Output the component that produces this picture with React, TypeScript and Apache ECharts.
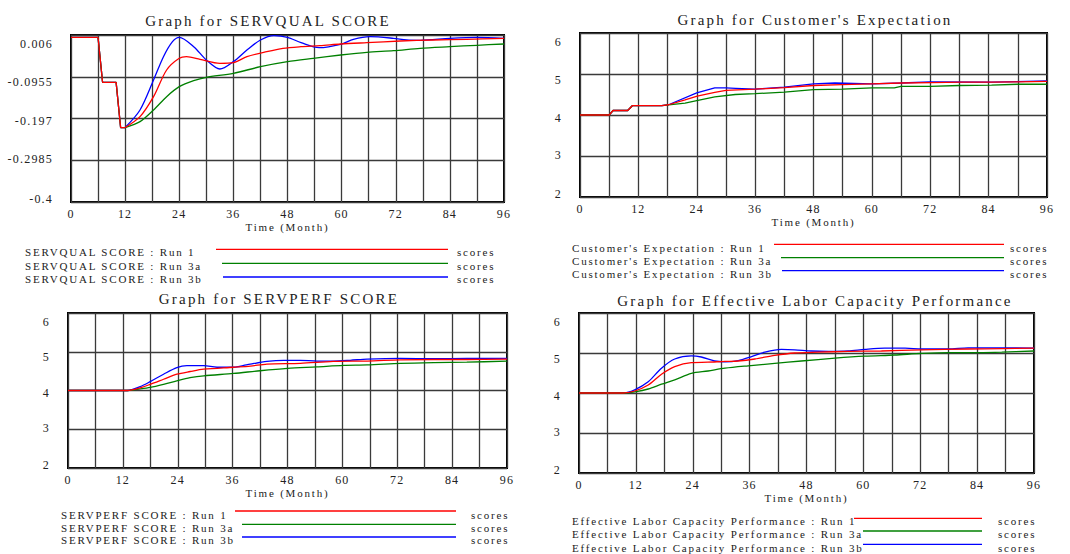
import React, { useEffect, useRef } from "react";
import * as echarts from "echarts";

// ---------- Data ----------
const xTicks = [0, 12, 24, 36, 48, 60, 72, 84, 96];
const yLabelsServqual = ["-0.4", "-0.2985", "-0.197", "-0.0955", "0.006"];
const yLabelsScore = ["2", "3", "4", "5", "6"];
const runNames = ["Run 1", "Run 3a", "Run 3b"];

// Graph for SERVQUAL SCORE
const sqRun1T = [0, 6, 7, 10, 11, 12, 15.3, 18.3, 21.2, 24, 25.6, 28.6, 33, 36, 39, 43.4, 47, 51, 55.2, 59.8, 65.6, 73, 80.3, 87.7, 96];
const sqRun1V = [0, 0, -0.109, -0.109, -0.219, -0.219, -0.1925, -0.1439, -0.0791, -0.0507, -0.0467, -0.0531, -0.0629, -0.0613, -0.0467, -0.0345, -0.0264, -0.0224, -0.0199, -0.0159, -0.0126, -0.0086, -0.0062, -0.0045, -0.0021];
const sqRun3aT = [0, 6, 7, 10, 11, 12, 15.3, 18.3, 21.2, 24, 27.2, 30, 36, 42, 48, 53.7, 59.8, 65.6, 71.5, 77.4, 84, 90, 96];
const sqRun3aV = [0, 0, -0.109, -0.109, -0.219, -0.219, -0.2047, -0.1763, -0.1439, -0.1196, -0.105, -0.0969, -0.0872, -0.071, -0.0588, -0.0507, -0.0426, -0.0361, -0.0321, -0.0264, -0.0224, -0.019, -0.0159];
const sqRun3bT = [0, 6, 7, 10, 11, 12, 15.3, 18.3, 20.5, 22.5, 24, 27.2, 30, 33, 36, 39, 42, 45, 48, 51, 55, 60, 62.6, 66.3, 71.5, 74.4, 77.4, 84, 90, 96];
const sqRun3bV = [0, 0, -0.109, -0.109, -0.219, -0.219, -0.1763, -0.1034, -0.0467, -0.0102, 0.0003, -0.0224, -0.0548, -0.0767, -0.0588, -0.0305, -0.0062, 0.0044, 0.0003, -0.0126, -0.0248, -0.0159, -0.0045, 0.0019, -0.0021, -0.0062, -0.007, -0.0021, 0.0003, -0.0021];

// Graph for Customer's Expectation
const ceRun1T = [0, 6, 6.8, 9.8, 10.8, 16.8, 18.2, 21.6, 24.1, 27.7, 30, 36, 42, 48, 53.8, 60, 66, 72.3, 78.4, 84.6, 90, 96];
const ceRun1V = [4, 4, 4.11, 4.11, 4.23, 4.23, 4.25, 4.37, 4.46, 4.55, 4.6, 4.63, 4.67, 4.72, 4.74, 4.76, 4.78, 4.79, 4.8, 4.8, 4.81, 4.82];
const ceRun3aT = [0, 6, 6.8, 9.8, 10.8, 16.8, 21.6, 24, 27.7, 31.9, 36, 42, 48, 54, 60, 64.6, 66, 72, 78, 84.6, 90, 96];
const ceRun3aV = [4, 4, 4.11, 4.11, 4.23, 4.23, 4.29, 4.35, 4.44, 4.5, 4.52, 4.56, 4.62, 4.63, 4.66, 4.66, 4.7, 4.7, 4.72, 4.73, 4.75, 4.75];
const ceRun3bT = [0, 6, 6.8, 9.8, 10.8, 16.8, 18.2, 24, 27.7, 30, 32, 36, 42, 48, 52.4, 60, 66, 72, 84.6, 96];
const ceRun3bV = [4, 4, 4.11, 4.11, 4.23, 4.23, 4.25, 4.54, 4.66, 4.66, 4.65, 4.63, 4.68, 4.76, 4.78, 4.76, 4.78, 4.81, 4.8, 4.83];

// Graph for SERVPERF SCORE
const spRun1T = [0, 13, 15.8, 18, 20.9, 23.8, 26.7, 29.7, 36.2, 39.9, 43.5, 50.8, 58, 65.4, 72.7, 80, 87.2, 96];
const spRun1V = [4, 4, 4.07, 4.16, 4.29, 4.42, 4.49, 4.55, 4.6, 4.63, 4.68, 4.7, 4.75, 4.76, 4.79, 4.8, 4.8, 4.81];
const spRun3aT = [0, 13, 15.8, 18, 20.9, 23.8, 26.7, 29.7, 36.2, 42, 48, 54.4, 60.3, 65.4, 72.7, 80, 87.2, 96];
const spRun3aV = [4, 4, 4.04, 4.08, 4.16, 4.25, 4.33, 4.38, 4.44, 4.51, 4.57, 4.61, 4.65, 4.66, 4.7, 4.72, 4.73, 4.76];
const spRun3bT = [0, 13, 15.8, 18, 20.9, 23.8, 26, 29.7, 32.6, 36.2, 39, 43.5, 47.2, 50.8, 54.4, 58, 61.7, 65.4, 72.7, 80, 87.2, 96];
const spRun3bV = [4, 4, 4.1, 4.23, 4.42, 4.59, 4.64, 4.64, 4.6, 4.6, 4.66, 4.75, 4.78, 4.78, 4.76, 4.76, 4.78, 4.81, 4.83, 4.82, 4.83, 4.83];

// Graph for Effective Labor Capacity Performance
const elRun1T = [0, 9.3, 11.75, 14.6, 17.4, 20.2, 23.7, 27.2, 30.8, 33.6, 37.1, 41.3, 45.5, 50.5, 56.8, 63.8, 72.3, 82.1, 89.2, 96];
const elRun1V = [4, 4, 4.05, 4.2, 4.47, 4.66, 4.76, 4.77, 4.79, 4.8, 4.85, 4.94, 5.0, 5.02, 5.04, 5.05, 5.08, 5.1, 5.11, 5.12];
const elRun3aT = [0, 9.3, 11.75, 14.6, 17.4, 20.2, 23.7, 27.2, 30.8, 35.7, 41.3, 46.9, 54, 60.3, 66.6, 72.3, 77.9, 84.2, 89.2, 96];
const elRun3aV = [4, 4, 4.03, 4.1, 4.22, 4.33, 4.49, 4.55, 4.62, 4.68, 4.74, 4.8, 4.87, 4.92, 4.95, 4.99, 5.01, 5.01, 5.02, 5.05];
const elRun3bT = [0, 9.3, 11.75, 14.6, 17.4, 20.2, 23.7, 25.8, 28.6, 30.8, 33.6, 36.4, 39.2, 42.7, 45.5, 49, 52.6, 56.8, 60.3, 64.5, 68.8, 72.3, 77.9, 82.1, 89.2, 96];
const elRun3bV = [4, 4, 4.08, 4.28, 4.62, 4.85, 4.93, 4.9, 4.8, 4.78, 4.81, 4.91, 5.02, 5.09, 5.08, 5.05, 5.04, 5.05, 5.09, 5.12, 5.12, 5.1, 5.1, 5.13, 5.13, 5.12];

// ---------- Styling / layout ----------
const FONT = "'Liberation Serif', 'Times New Roman', serif";
const TEXT = "#222";
const GRIDLINE = "#3a3a3a";
const runColors = ["#ff0000", "#008000", "#0000ff"];

const panels = [
  {
    title: "Graph for SERVQUAL SCORE", titleX: 268, titleY: 21,
    grid: { left: 71, top: 35, width: 433, height: 167 },
    yMin: -0.4, yMax: 0.006, yInterval: 0.1015, yLabels: yLabelsServqual,
    runs: [[sqRun1T, sqRun1V], [sqRun3aT, sqRun3aV], [sqRun3bT, sqRun3bV]],
    mode: "split",
    legendName: "SERVQUAL SCORE", legendX: 25, legendYs: [252, 265.5, 279], lineYs: [249.3, 263.3, 277], lineX0s: [216, 222, 223], lineX1: 448, scoresX: 457,
  },
  {
    title: "Graph for Customer's Expectation", titleX: 815, titleY: 20,
    grid: { left: 580, top: 33, width: 467, height: 164 },
    yMin: 2, yMax: 6, yInterval: 1, yLabels: yLabelsScore,
    runs: [[ceRun1T, ceRun1V], [ceRun3aT, ceRun3aV], [ceRun3bT, ceRun3bV]],
    mode: "linear",
    legendName: "Customer's Expectation", legendX: 572, legendYs: [247.7, 260.5, 274], lineYs: [244.3, 257.7, 270.7], lineX0s: [774, 781, 782], lineX1: 1004, scoresX: 1010,
  },
  {
    title: "Graph for SERVPERF SCORE", titleX: 279, titleY: 299,
    grid: { left: 68, top: 313, width: 439, height: 155 },
    yMin: 2, yMax: 6, yInterval: 1, yLabels: yLabelsScore,
    runs: [[spRun1T, spRun1V], [spRun3aT, spRun3aV], [spRun3bT, spRun3bV]],
    mode: "smooth",
    legendName: "SERVPERF SCORE", legendX: 61, legendYs: [515, 527.7, 540], lineYs: [511, 524.3, 537], lineX0s: [235, 242, 242], lineX1: 456, scoresX: 471,
  },
  {
    title: "Graph for Effective Labor Capacity Performance", titleX: 815, titleY: 300.7,
    grid: { left: 579, top: 313, width: 455, height: 160 },
    yMin: 2, yMax: 6, yInterval: 1, yLabels: yLabelsScore,
    runs: [[elRun1T, elRun1V], [elRun3aT, elRun3aV], [elRun3bT, elRun3bV]],
    mode: "smooth",
    legendName: "Effective Labor Capacity Performance", legendX: 572, legendYs: [520.7, 534, 547.7], lineYs: [518.3, 531, 544.3], lineX0s: [854, 863, 863], lineX1: 982, scoresX: 998,
  },
];

// vertical offsets of the y labels (bottom -> top), Vensim style
const labelPads: Record<string, number[]> = {
  d0: [0, 0, 7, 0],
  d1: [0, 0, 2, 0],
  d2: [5, 0, 0, 0],
  d3: [11, 0, 0, 0],
  d4: [18, 0, 0, 0],
};

function pairs(t: number[], v: number[]) {
  return t.map((x, i) => [x, v[i]]);
}

function buildOption() {
  const grids: any[] = [];
  const xAxes: any[] = [];
  const yAxes: any[] = [];
  const series: any[] = [];
  const graphics: any[] = [];

  const rich: any = {};
  Object.keys(labelPads).forEach((k) => {
    rich[k] = { fontFamily: FONT, fontSize: 12, color: TEXT, padding: labelPads[k] };
  });

  panels.forEach((p, i) => {
    grids.push({
      ...p.grid,
      show: true,
      borderColor: "#000",
      borderWidth: 2,
      backgroundColor: "#fff",
      containLabel: false,
    });
    xAxes.push({
      type: "value",
      gridIndex: i,
      min: 0,
      max: 96,
      interval: 6,
      axisLine: { show: false },
      axisTick: { show: false },
      splitLine: { show: true, lineStyle: { color: GRIDLINE, width: 1.3 } },
      axisLabel: {
        margin: 6,
        fontFamily: FONT,
        fontSize: 12,
        color: TEXT,
        formatter: (v: number) => (xTicks.indexOf(Math.round(v)) >= 0 ? String(Math.round(v)) : ""),
      },
      name: "Time (Month)",
      nameLocation: "middle",
      nameGap: 19,
      nameTextStyle: { fontFamily: FONT, fontSize: 11, color: TEXT },
    });
    yAxes.push({
      type: "value",
      gridIndex: i,
      min: p.yMin,
      max: p.yMax,
      interval: p.yInterval,
      axisLine: { show: false },
      axisTick: { show: false },
      splitLine: { show: true, lineStyle: { color: GRIDLINE, width: 1.3 } },
      axisLabel: {
        margin: 18,
        fontFamily: FONT,
        fontSize: 12,
        color: TEXT,
        formatter: (_v: number, idx: number) => `{d${idx}|${p.yLabels[idx] ?? ""}}`,
        rich,
      },
    });

    // draw order: 3b, 3a, 1 (Run 1 on top)
    [2, 1, 0].forEach((r) => {
      const [t, v] = p.runs[r];
      const data = pairs(t as number[], v as number[]);
      const base = {
        type: "line",
        name: `${p.legendName} : ${runNames[r]}`,
        xAxisIndex: i,
        yAxisIndex: i,
        showSymbol: false,
        symbol: "none",
        lineStyle: { color: runColors[r], width: 1.3 },
        itemStyle: { color: runColors[r] },
        z: 3 + (2 - r),
      };
      if (p.mode === "split") {
        series.push({ ...base, data: data.filter((d) => d[0] <= 12), smooth: false });
        series.push({ ...base, data: data.filter((d) => d[0] >= 12), smooth: 0.3 });
      } else if (p.mode === "smooth") {
        series.push({ ...base, data, smooth: 0.3 });
      } else {
        series.push({ ...base, data, smooth: false });
      }
    });

    // title
    graphics.push({
      type: "text",
      x: p.titleX,
      y: p.titleY,
      style: {
        text: p.title,
        fontFamily: FONT,
        fontSize: 15,
        fill: TEXT,
        align: "center",
        verticalAlign: "middle",
      },
    });

    // legend rows
    [0, 1, 2].forEach((r) => {
      graphics.push({
        type: "text",
        x: p.legendX,
        y: p.legendYs[r],
        style: {
          text: `${p.legendName} : ${runNames[r]}`,
          fontFamily: FONT,
          fontSize: 11,
          fill: TEXT,
          align: "left",
          verticalAlign: "middle",
        },
      });
      graphics.push({
        type: "line",
        shape: { x1: p.lineX0s[r], y1: p.lineYs[r], x2: p.lineX1, y2: p.lineYs[r] },
        style: { stroke: runColors[r], lineWidth: 1.3 },
      });
      graphics.push({
        type: "text",
        x: p.scoresX,
        y: p.legendYs[r],
        style: {
          text: "scores",
          fontFamily: FONT,
          fontSize: 11,
          fill: TEXT,
          align: "left",
          verticalAlign: "middle",
        },
      });
    });
  });

  return {
    animation: false,
    backgroundColor: "#fff",
    grid: grids,
    xAxis: xAxes,
    yAxis: yAxes,
    series,
    graphic: graphics,
  };
}

// Vensim-style letter spacing of the chart texts
const spacingCss = `
.vensim-chart text[style*="15px"] { letter-spacing: 2.2px; }
.vensim-chart text[style*="11px"] { letter-spacing: 1.8px; }
.vensim-chart text[style*="12px"] { letter-spacing: 1.2px; }
`;

export default function App() {
  const ref = useRef<HTMLDivElement>(null);
  useEffect(() => {
    document.body.style.margin = "0";
    if (!ref.current) return;
    const chart = echarts.init(ref.current, undefined, { renderer: "svg" });
    chart.setOption(buildOption() as any);
    return () => chart.dispose();
  }, []);
  return (
    <>
      <style>{spacingCss}</style>
      <div className="vensim-chart" ref={ref} style={{ width: 1070, height: 554 }} />
    </>
  );
}
